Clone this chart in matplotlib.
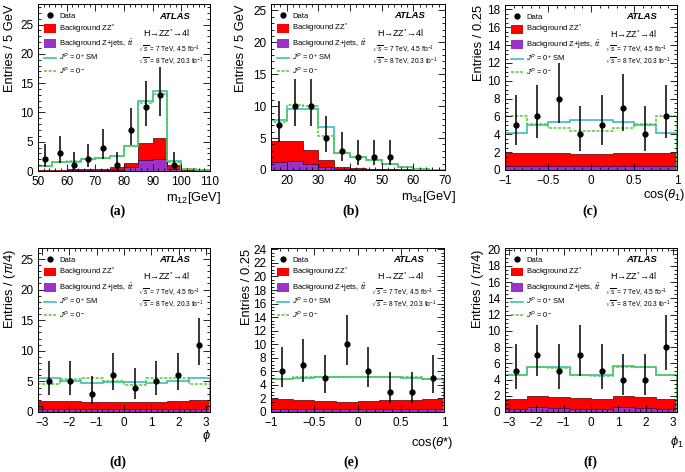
import numpy as np
import matplotlib.pyplot as plt
from matplotlib.ticker import MultipleLocator
from matplotlib.patches import Patch
from matplotlib.lines import Line2D

plt.rcParams['font.family'] = ['Liberation Sans', 'DejaVu Sans']
plt.rcParams['mathtext.fontset'] = 'custom'
plt.rcParams['mathtext.rm'] = 'Liberation Sans'
plt.rcParams['mathtext.it'] = 'Liberation Sans:italic'
plt.rcParams['mathtext.bf'] = 'Liberation Sans:bold'

# ---- data ----
# (a) m12, 5 GeV bins 50-110
m12_edges = np.arange(50, 111, 5)
m12_data = [2, 3, 1, 2, 4, 1, 7, 11, 13, 1, 0, 0]
m12_sm = [0.8, 1.5, 1.6, 2.0, 2.2, 2.5, 4.2, 11.9, 13.6, 1.7, 0.3, 0.1]
m12_ps = [0.9, 1.6, 1.7, 2.1, 2.3, 2.6, 4.2, 11.6, 13.2, 1.6, 0.3, 0.1]
m12_zz = [0.2, 0.25, 0.3, 0.3, 0.4, 0.7, 1.4, 4.7, 5.7, 1.0, 0.2, 0.1]
m12_zj = [0.05, 0.05, 0.1, 0.1, 0.1, 0.2, 0.7, 1.8, 2.0, 0.4, 0.05, 0.02]

# (b) m34, 5 GeV bins 15-70
m34_edges = np.arange(15, 71, 5)
m34_data = [7, 10, 10, 5, 3, 2, 2, 2, 0, 0, 0]
m34_sm = [7.8, 9.5, 9.6, 6.8, 2.6, 2.0, 1.6, 1.0, 0.4, 0.1, 0.05]
m34_ps = [7.5, 10.2, 10.1, 5.3, 2.7, 2.0, 1.5, 1.0, 0.5, 0.1, 0.05]
m34_zz = [4.5, 4.6, 3.1, 1.5, 0.4, 0.3, 0.2, 0.2, 0.1, 0.05, 0.05]
m34_zj = [1.2, 1.4, 1.0, 0.5, 0.2, 0.1, 0.1, 0.1, 0.05, 0.02, 0.02]

# (c) cos(theta1), 0.25 bins
cth1_edges = np.linspace(-1, 1, 9)
cth1_data = [5, 6, 8, 4, 5, 7, 4, 6]
cth1_sm = [4.2, 5.0, 5.4, 5.6, 5.6, 5.4, 5.0, 4.2]
cth1_ps = [6.0, 5.2, 4.7, 4.4, 4.4, 4.7, 5.2, 6.0]
cth1_zz = [1.9, 1.9, 1.9, 1.8, 1.8, 1.9, 1.9, 1.9]
cth1_zj = [0.5, 0.5, 0.5, 0.5, 0.5, 0.5, 0.5, 0.5]

# (d) phi, pi/4 bins
phi_edges = np.linspace(-np.pi, np.pi, 9)
phi_data = [5, 5, 3, 6, 4, 5, 6, 11]
phi_sm = [5.6, 5.0, 4.7, 4.9, 4.9, 4.7, 5.0, 5.6]
phi_ps = [4.5, 5.4, 5.6, 5.0, 4.4, 5.6, 5.6, 4.6]
phi_zz = [1.8, 1.8, 1.7, 1.7, 1.7, 1.7, 1.8, 1.9]
phi_zj = [0.5, 0.5, 0.5, 0.5, 0.5, 0.5, 0.5, 0.5]

# (e) cos(theta*), 0.25 bins
cts_edges = np.linspace(-1, 1, 9)
cts_data = [6, 7, 5, 10, 6, 3, 3, 5]
cts_sm = [4.8, 5.0, 5.1, 5.1, 5.1, 5.1, 5.0, 4.8]
cts_ps = [4.9, 5.1, 5.2, 5.2, 5.2, 5.2, 5.1, 4.9]
cts_zz = [1.9, 1.8, 1.6, 1.5, 1.6, 1.7, 1.8, 1.9]
cts_zj = [0.5, 0.5, 0.5, 0.5, 0.5, 0.5, 0.5, 0.5]

# (f) phi1, pi/4 bins
phi1_edges = np.linspace(-np.pi, np.pi, 9)
phi1_data = [5, 7, 5, 7, 5, 4, 4, 8]
phi1_sm = [4.6, 5.6, 5.6, 4.6, 4.5, 5.7, 5.6, 4.6]
phi1_ps = [4.5, 5.5, 5.4, 4.5, 4.4, 5.5, 5.5, 4.5]
phi1_zz = [1.6, 2.0, 1.9, 1.7, 1.6, 2.0, 1.9, 1.6]
phi1_zj = [0.4, 0.6, 0.5, 0.4, 0.4, 0.6, 0.5, 0.4]

# 68% Poisson intervals (Garwood) for observed counts
garwood = {1: (0.173, 3.300), 2: (0.708, 4.638), 3: (1.367, 5.918),
           4: (2.086, 7.163), 5: (2.840, 8.382), 6: (3.620, 9.584),
           7: (4.419, 10.77), 8: (5.232, 11.95), 9: (6.057, 13.11),
           10: (6.891, 14.27), 11: (7.734, 15.42), 12: (8.585, 16.56),
           13: (9.441, 17.70)}

RED = '#ff0000'
PURPLE = '#9933cc'
CYAN = '#3fbcb8'
GREEN = '#55cc33'

W, H = 685, 472
fig = plt.figure(figsize=(W / 100, H / 100), dpi=100)


def rect(l, r, t, b):
    return [l / W, 1 - b / H, (r - l) / W, (b - t) / H]


def panel(ax, edges, data, sm, ps, zz, zj):
    ax.stairs(zz, edges, fill=True, facecolor=RED, edgecolor='#550000', linewidth=0.5)
    ax.stairs(zj, edges, fill=True, facecolor=PURPLE, edgecolor='#330044', linewidth=0.5)
    ax.stairs(sm, edges, color=CYAN, linewidth=1.2)
    ax.stairs(ps, edges, color=GREEN, linewidth=1.1, linestyle=(0, (2, 1)))
    centers = 0.5 * (edges[:-1] + edges[1:])
    x, y, lo, hi = [], [], [], []
    for c, n in zip(centers, data):
        if n > 0:
            x.append(c)
            y.append(n)
            lo.append(n - garwood[n][0])
            hi.append(garwood[n][1] - n)
    ax.errorbar(x, y, yerr=[lo, hi], fmt='o', color='black', ms=3.5,
                elinewidth=1.1, capsize=0)
    ax.set_xlim(edges[0], edges[-1])
    ax.tick_params(which='both', direction='in', top=True, right=True,
                   labelsize=8.5, width=0.6)
    ax.tick_params(axis='x', pad=3.5)
    ax.tick_params(axis='y', pad=3.5)
    ax.tick_params(which='major', length=5)
    ax.tick_params(which='minor', length=2.5)
    for s in ax.spines.values():
        s.set_linewidth(0.7)

    handles = [Line2D([], [], marker='o', color='black', ls='none', ms=3.5),
               Patch(facecolor=RED, edgecolor='none'),
               Patch(facecolor=PURPLE, edgecolor='none'),
               Line2D([], [], color=CYAN, lw=1.2),
               Line2D([], [], color=GREEN, lw=1.1, ls=(0, (2, 1)))]
    labels = ['Data', r'Background ZZ$^{*}$', r'Background Z+jets, $t\bar{t}$',
              r'$J^{P}$ = 0$^{+}$ SM', r'$J^{P}$ = 0$^{-}$']
    ax.legend(handles, labels, loc='upper left', bbox_to_anchor=(0.035, 0.956),
              frameon=False, fontsize=5.5, handlelength=1.6, handleheight=1.3,
              handletextpad=0.35, labelspacing=0.28, borderpad=0, borderaxespad=0)
    ax.text(0.885, 0.928, 'ATLAS', transform=ax.transAxes, ha='right', va='center',
            fontsize=6.8, fontweight='bold', style='italic')
    ax.text(0.61, 0.826, 'H\u2192ZZ$^{*}$\u21924l', transform=ax.transAxes,
            ha='left', va='center', fontsize=6.5)
    ax.text(0.58, 0.725, r'$\sqrt{s}$ = 7 TeV, 4.5 fb$^{-1}$', transform=ax.transAxes,
            ha='left', va='center', fontsize=4.8)
    ax.text(0.58, 0.653, r'$\sqrt{s}$ = 8 TeV, 20.3 fb$^{-1}$', transform=ax.transAxes,
            ha='left', va='center', fontsize=4.8)


# ---------- panels ----------
ax = fig.add_axes(rect(38, 210, 4, 171))
panel(ax, m12_edges, m12_data, m12_sm, m12_ps, m12_zz, m12_zj)
ax.set_ylim(0, 28.5)
ax.xaxis.set_major_locator(MultipleLocator(10))
ax.xaxis.set_minor_locator(MultipleLocator(2))
ax.yaxis.set_major_locator(MultipleLocator(5))
ax.yaxis.set_minor_locator(MultipleLocator(1))

ax = fig.add_axes(rect(271, 445, 4, 170))
panel(ax, m34_edges, m34_data, m34_sm, m34_ps, m34_zz, m34_zj)
ax.set_ylim(0, 26)
ax.xaxis.set_major_locator(MultipleLocator(10))
ax.xaxis.set_minor_locator(MultipleLocator(2))
ax.yaxis.set_major_locator(MultipleLocator(5))
ax.yaxis.set_minor_locator(MultipleLocator(1))

ax = fig.add_axes(rect(505, 677, 5, 170))
panel(ax, cth1_edges, cth1_data, cth1_sm, cth1_ps, cth1_zz, cth1_zj)
ax.set_ylim(0, 18.5)
ax.xaxis.set_major_locator(MultipleLocator(0.5))
ax.xaxis.set_minor_locator(MultipleLocator(0.1))
ax.yaxis.set_major_locator(MultipleLocator(2))
ax.yaxis.set_minor_locator(MultipleLocator(0.5))
ax.set_xticks([-1, -0.5, 0, 0.5, 1], ['\u22121', '\u22120.5', '0', '0.5', '1'])

ax = fig.add_axes(rect(38, 210, 248, 412))
panel(ax, phi_edges, phi_data, phi_sm, phi_ps, phi_zz, phi_zj)
ax.set_ylim(0, 26.8)
ax.xaxis.set_major_locator(MultipleLocator(1))
ax.xaxis.set_minor_locator(MultipleLocator(0.2))
ax.yaxis.set_major_locator(MultipleLocator(5))
ax.yaxis.set_minor_locator(MultipleLocator(1))

ax = fig.add_axes(rect(271, 444, 248, 412))
panel(ax, cts_edges, cts_data, cts_sm, cts_ps, cts_zz, cts_zj)
ax.set_ylim(0, 24.2)
ax.xaxis.set_major_locator(MultipleLocator(0.5))
ax.xaxis.set_minor_locator(MultipleLocator(0.1))
ax.yaxis.set_major_locator(MultipleLocator(2))
ax.yaxis.set_minor_locator(MultipleLocator(0.5))
ax.set_xticks([-1, -0.5, 0, 0.5, 1], ['\u22121', '\u22120.5', '0', '0.5', '1'])

ax = fig.add_axes(rect(505, 677, 248, 412))
panel(ax, phi1_edges, phi1_data, phi1_sm, phi1_ps, phi1_zz, phi1_zj)
ax.set_ylim(0, 20.2)
ax.xaxis.set_major_locator(MultipleLocator(1))
ax.xaxis.set_minor_locator(MultipleLocator(0.2))
ax.yaxis.set_major_locator(MultipleLocator(2))
ax.yaxis.set_minor_locator(MultipleLocator(0.5))

# ---------- axis titles ----------
xl = [(221, 198, r'm$_{12}$[GeV]'), (456, 197, r'm$_{34}$[GeV]'),
      (685, 195, r'cos($\theta_{1}$)'), (211, 436, r'$\phi$'),
      (453, 443, r'cos($\theta$*)'), (684, 442, r'$\phi_{1}$')]
for x, y, t in xl:
    fig.text(x / W, 1 - y / H, t, ha='right', va='center', fontsize=9.3)

yl = [(10, 5, 'Entries / 5 GeV'), (241, 5, 'Entries / 5 GeV'),
      (479, 5, 'Entries / 0.25'), (10, 249, r'Entries / ($\pi$/4)'),
      (247, 249, 'Entries / 0.25'), (478, 249, r'Entries / ($\pi$/4)')]
for x, y, t in yl:
    fig.text(x / W, 1 - y / H, t, ha='center', va='top', rotation=90, fontsize=9.3)

for x, y, t in [(118, 211, '(a)'), (351, 211, '(b)'), (590, 211, '(c)'),
                (118, 462, '(d)'), (351, 462, '(e)'), (590, 462, '(f)')]:
    fig.text(x / W, 1 - y / H, t, ha='center', va='center', fontsize=10,
             fontweight='bold', family='Liberation Serif')

fig.savefig('out.png', dpi=100)
